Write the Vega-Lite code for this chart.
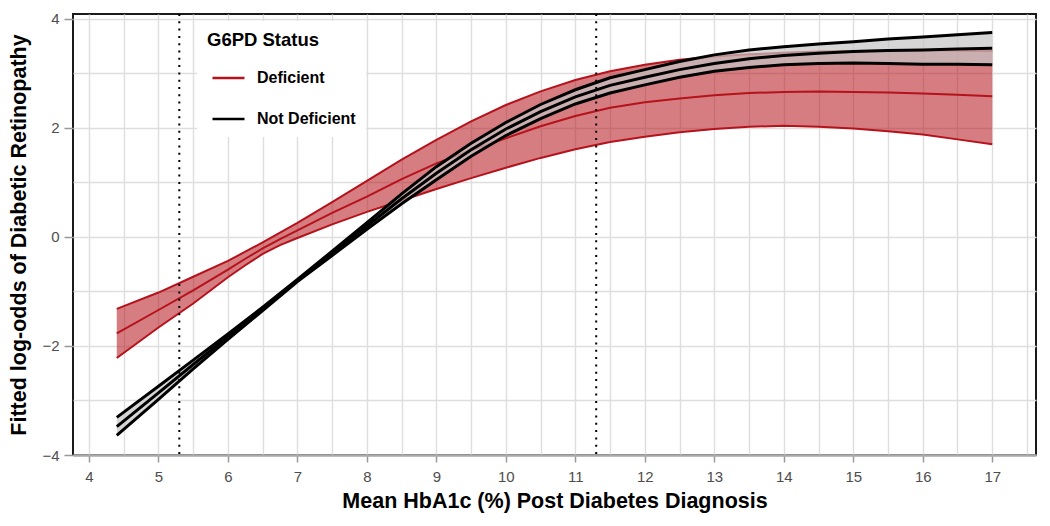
{
  "$schema": "https://vega.github.io/schema/vega-lite/v6.json",
  "width": 963,
  "height": 441,
  "autosize": {"type": "none"},
  "padding": {"left": 73, "top": 14, "right": 14, "bottom": 71},
  "background": "white",
  "config": {
    "font": "Liberation Sans",
    "view": {"stroke": "#1a1a1a", "strokeWidth": 2},
    "axis": {
      "gridColor": "#dedede",
      "gridWidth": 1.4,
      "labelFont": "Liberation Sans",
      "labelFontSize": 15,
      "labelColor": "#4d4d4d",
      "tickColor": "#999999",
      "tickWidth": 1.5,
      "titleFont": "Liberation Sans",
      "titleFontSize": 21.5,
      "titleFontWeight": "bold",
      "titleColor": "#000000"
    },
    "legend": {"titleFont": "Liberation Sans", "labelFont": "Liberation Sans"}
  },
  "resolve": {"axis": {"x": "independent", "y": "independent"}},
  "datasets": {
    "curves": [
      {"hba1c": 4.4, "status": "Deficient", "fit": -1.77, "lower": -2.22, "upper": -1.32},
      {"hba1c": 5.0, "status": "Deficient", "fit": -1.34, "lower": -1.66, "upper": -1.02},
      {"hba1c": 5.5, "status": "Deficient", "fit": -0.98, "lower": -1.22, "upper": -0.73},
      {"hba1c": 6.0, "status": "Deficient", "fit": -0.60, "lower": -0.74, "upper": -0.44},
      {"hba1c": 6.25, "status": "Deficient", "fit": -0.40, "lower": -0.52, "upper": -0.27},
      {"hba1c": 6.5, "status": "Deficient", "fit": -0.21, "lower": -0.31, "upper": -0.10},
      {"hba1c": 6.75, "status": "Deficient", "fit": -0.04, "lower": -0.15, "upper": 0.08},
      {"hba1c": 7.0, "status": "Deficient", "fit": 0.12, "lower": -0.02, "upper": 0.26},
      {"hba1c": 7.5, "status": "Deficient", "fit": 0.44, "lower": 0.23, "upper": 0.64},
      {"hba1c": 8.0, "status": "Deficient", "fit": 0.74, "lower": 0.46, "upper": 1.03},
      {"hba1c": 8.5, "status": "Deficient", "fit": 1.06, "lower": 0.67, "upper": 1.42},
      {"hba1c": 9.0, "status": "Deficient", "fit": 1.35, "lower": 0.88, "upper": 1.78},
      {"hba1c": 9.5, "status": "Deficient", "fit": 1.59, "lower": 1.08, "upper": 2.12},
      {"hba1c": 10.0, "status": "Deficient", "fit": 1.81, "lower": 1.27, "upper": 2.42},
      {"hba1c": 10.5, "status": "Deficient", "fit": 2.03, "lower": 1.45, "upper": 2.67},
      {"hba1c": 11.0, "status": "Deficient", "fit": 2.22, "lower": 1.61, "upper": 2.88},
      {"hba1c": 11.5, "status": "Deficient", "fit": 2.37, "lower": 1.74, "upper": 3.04},
      {"hba1c": 12.0, "status": "Deficient", "fit": 2.47, "lower": 1.84, "upper": 3.16},
      {"hba1c": 12.5, "status": "Deficient", "fit": 2.54, "lower": 1.92, "upper": 3.25},
      {"hba1c": 13.0, "status": "Deficient", "fit": 2.60, "lower": 1.98, "upper": 3.31},
      {"hba1c": 13.5, "status": "Deficient", "fit": 2.64, "lower": 2.02, "upper": 3.35},
      {"hba1c": 14.0, "status": "Deficient", "fit": 2.66, "lower": 2.04, "upper": 3.38},
      {"hba1c": 14.5, "status": "Deficient", "fit": 2.67, "lower": 2.02, "upper": 3.40},
      {"hba1c": 15.0, "status": "Deficient", "fit": 2.66, "lower": 1.99, "upper": 3.41},
      {"hba1c": 15.5, "status": "Deficient", "fit": 2.65, "lower": 1.94, "upper": 3.42},
      {"hba1c": 16.0, "status": "Deficient", "fit": 2.63, "lower": 1.88, "upper": 3.42},
      {"hba1c": 16.5, "status": "Deficient", "fit": 2.61, "lower": 1.79, "upper": 3.42},
      {"hba1c": 17.0, "status": "Deficient", "fit": 2.58, "lower": 1.70, "upper": 3.41},
      {"hba1c": 4.4, "status": "Not Deficient", "fit": -3.48, "lower": -3.64, "upper": -3.31},
      {"hba1c": 5.0, "status": "Not Deficient", "fit": -2.86, "lower": -2.98, "upper": -2.74},
      {"hba1c": 5.5, "status": "Not Deficient", "fit": -2.34, "lower": -2.42, "upper": -2.26},
      {"hba1c": 6.0, "status": "Not Deficient", "fit": -1.83, "lower": -1.88, "upper": -1.78},
      {"hba1c": 6.5, "status": "Not Deficient", "fit": -1.32, "lower": -1.35, "upper": -1.29},
      {"hba1c": 7.0, "status": "Not Deficient", "fit": -0.80, "lower": -0.82, "upper": -0.78},
      {"hba1c": 7.5, "status": "Not Deficient", "fit": -0.30, "lower": -0.34, "upper": -0.26},
      {"hba1c": 8.0, "status": "Not Deficient", "fit": 0.20, "lower": 0.14, "upper": 0.26},
      {"hba1c": 8.5, "status": "Not Deficient", "fit": 0.70, "lower": 0.61, "upper": 0.79},
      {"hba1c": 9.0, "status": "Not Deficient", "fit": 1.17, "lower": 1.05, "upper": 1.29},
      {"hba1c": 9.5, "status": "Not Deficient", "fit": 1.60, "lower": 1.48, "upper": 1.72},
      {"hba1c": 10.0, "status": "Not Deficient", "fit": 1.98, "lower": 1.86, "upper": 2.10},
      {"hba1c": 10.5, "status": "Not Deficient", "fit": 2.30, "lower": 2.17, "upper": 2.43},
      {"hba1c": 11.0, "status": "Not Deficient", "fit": 2.57, "lower": 2.44, "upper": 2.70},
      {"hba1c": 11.5, "status": "Not Deficient", "fit": 2.78, "lower": 2.64, "upper": 2.92},
      {"hba1c": 12.0, "status": "Not Deficient", "fit": 2.93, "lower": 2.79, "upper": 3.07},
      {"hba1c": 12.5, "status": "Not Deficient", "fit": 3.07, "lower": 2.93, "upper": 3.22},
      {"hba1c": 13.0, "status": "Not Deficient", "fit": 3.18, "lower": 3.04, "upper": 3.34},
      {"hba1c": 13.5, "status": "Not Deficient", "fit": 3.27, "lower": 3.11, "upper": 3.43},
      {"hba1c": 14.0, "status": "Not Deficient", "fit": 3.33, "lower": 3.16, "upper": 3.49},
      {"hba1c": 14.5, "status": "Not Deficient", "fit": 3.37, "lower": 3.18, "upper": 3.54},
      {"hba1c": 15.0, "status": "Not Deficient", "fit": 3.40, "lower": 3.19, "upper": 3.58},
      {"hba1c": 15.5, "status": "Not Deficient", "fit": 3.42, "lower": 3.18, "upper": 3.63},
      {"hba1c": 16.0, "status": "Not Deficient", "fit": 3.43, "lower": 3.17, "upper": 3.67},
      {"hba1c": 16.5, "status": "Not Deficient", "fit": 3.45, "lower": 3.17, "upper": 3.71},
      {"hba1c": 17.0, "status": "Not Deficient", "fit": 3.46, "lower": 3.16, "upper": 3.75}
    ],
    "refs": [{"hba1c": 5.3}, {"hba1c": 11.3}]
  },
  "layer": [
    {
      "data": {"name": "curves"},
      "transform": [{"filter": "datum.status === 'Deficient'"}],
      "mark": {"type": "area", "color": "#B5121B", "opacity": 0.55},
      "encoding": {
        "x": {
          "field": "hba1c",
          "type": "quantitative",
          "title": "Mean HbA1c (%) Post Diabetes Diagnosis",
          "scale": {"domain": [3.77, 17.63], "nice": false, "zero": false},
          "axis": {
            "orient": "bottom",
            "values": [4, 5, 6, 7, 8, 9, 10, 11, 12, 13, 14, 15, 16, 17],
            "format": "d",
            "grid": false,
            "tickSize": 7,
            "domainColor": "#aaaaaa",
            "domainWidth": 2.5,
            "labelPadding": 7,
            "titlePadding": 6
          }
        },
        "y": {
          "field": "lower",
          "type": "quantitative",
          "title": "Fitted log-odds of Diabetic Retinopathy",
          "scale": {"domain": [-4, 4.09], "nice": false, "zero": false},
          "axis": {
            "orient": "left",
            "values": [-4, -2, 0, 2, 4],
            "format": "d",
            "grid": false,
            "tickSize": 9,
            "domain": false,
            "labelPadding": 5,
            "titlePadding": 11
          }
        },
        "y2": {"field": "upper"}
      }
    },
    {
      "data": {"name": "curves"},
      "transform": [
        {"filter": "datum.status === 'Deficient'"},
        {"fold": ["lower", "fit", "upper"], "as": ["band", "val"]}
      ],
      "mark": {"type": "line", "strokeWidth": 2},
      "encoding": {
        "x": {"field": "hba1c", "type": "quantitative", "axis": null},
        "y": {"field": "val", "type": "quantitative", "axis": null},
        "detail": {"field": "band"},
        "color": {
          "field": "status",
          "type": "nominal",
          "scale": {"domain": ["Deficient", "Not Deficient"], "range": ["#B5121B", "#000000"]},
          "legend": {
            "title": "G6PD Status",
            "orient": "none",
            "legendX": 124,
            "legendY": 7,
            "fillColor": "white",
            "padding": 10,
            "titleFontSize": 18.5,
            "titleFontWeight": "bold",
            "titleColor": "#000000",
            "titlePadding": 11,
            "labelFontSize": 16,
            "labelFontWeight": "bold",
            "labelColor": "#000000",
            "symbolType": "stroke",
            "symbolSize": 1024,
            "symbolStrokeWidth": 2.5,
            "rowPadding": 15,
            "labelOffset": 11,
            "symbolOffset": 4
          }
        }
      }
    },
    {
      "data": {"name": "curves"},
      "transform": [{"filter": "datum.status === 'Not Deficient'"}],
      "mark": {"type": "area", "color": "#c5c5c5", "opacity": 0.7},
      "encoding": {
        "x": {
          "field": "hba1c",
          "type": "quantitative",
          "axis": {
            "orient": "top",
            "values": [4, 4.5, 5, 5.5, 6, 6.5, 7, 7.5, 8, 8.5, 9, 9.5, 10, 10.5, 11, 11.5, 12, 12.5, 13, 13.5, 14, 14.5, 15, 15.5, 16, 16.5, 17, 17.5],
            "grid": true,
            "labels": false,
            "ticks": false,
            "domain": false,
            "title": null
          }
        },
        "y": {
          "field": "lower",
          "type": "quantitative",
          "axis": {
            "orient": "right",
            "values": [-4, -3, -2, -1, 0, 1, 2, 3, 4],
            "grid": true,
            "labels": false,
            "ticks": false,
            "domain": false,
            "title": null
          }
        },
        "y2": {"field": "upper"}
      }
    },
    {
      "data": {"name": "curves"},
      "transform": [
        {"filter": "datum.status === 'Not Deficient'"},
        {"fold": ["lower", "fit", "upper"], "as": ["band", "val"]}
      ],
      "mark": {"type": "line", "strokeWidth": 3},
      "encoding": {
        "x": {"field": "hba1c", "type": "quantitative", "axis": null},
        "y": {"field": "val", "type": "quantitative", "axis": null},
        "detail": {"field": "band"},
        "color": {"field": "status", "type": "nominal"}
      }
    },
    {
      "data": {"name": "refs"},
      "mark": {"type": "rule", "color": "#000000", "strokeWidth": 2, "strokeDash": [2, 5.3]},
      "encoding": {
        "x": {"field": "hba1c", "type": "quantitative", "axis": null}
      }
    }
  ]
}
